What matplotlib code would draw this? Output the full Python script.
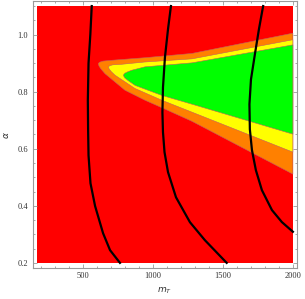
import numpy as np
import matplotlib
matplotlib.use("Agg")
import matplotlib.pyplot as plt
from matplotlib.ticker import MultipleLocator

# Plot range
m_range = [167, 2000]
a_range = [0.2, 1.1]

# Region boundaries (m_T, alpha)
orange_up_m = [607, 615, 640, 703, 941, 1278, 2000]
orange_up_a = [0.898, 0.903, 0.907, 0.910, 0.919, 0.934, 1.005]
orange_lo_m = [607, 612, 625, 655, 798, 941, 1061, 1278, 2000]
orange_lo_a = [0.898, 0.890, 0.880, 0.863, 0.805, 0.770, 0.744, 0.696, 0.511]

yellow_up_m = [679, 688, 710, 775, 941, 1278, 2000]
yellow_up_a = [0.8865, 0.891, 0.894, 0.896, 0.904, 0.915, 0.982]
yellow_lo_m = [679, 685, 700, 727, 870, 1061, 1278, 2000]
yellow_lo_a = [0.8865, 0.879, 0.870, 0.8575, 0.811, 0.770, 0.728, 0.588]

green_up_m = [786, 795, 815, 846, 941, 1278, 2000]
green_up_a = [0.8575, 0.864, 0.869, 0.875, 0.887, 0.901, 0.964]
green_lo_m = [786, 795, 820, 870, 1061, 1278, 2000]
green_lo_a = [0.8575, 0.849, 0.839, 0.822, 0.787, 0.756, 0.651]

# Black contour curves
c1_m = [560, 550, 537, 532, 534, 537, 551, 584, 641, 691, 762]
c1_a = [1.1, 1.001, 0.900, 0.770, 0.665, 0.577, 0.479, 0.399, 0.304, 0.2445, 0.2]
c2_m = [1127, 1106, 1084, 1070, 1066, 1070, 1081, 1106, 1163, 1263, 1370, 1526]
c2_a = [1.1, 1.019, 0.920, 0.815, 0.728, 0.658, 0.588, 0.518, 0.430, 0.3425, 0.2795, 0.2]
c3_m = [1787, 1757, 1728, 1700, 1689, 1692, 1707, 1735, 1778, 1850, 1921, 2000]
c3_a = [1.1, 1.019, 0.931, 0.843, 0.756, 0.668, 0.595, 0.525, 0.455, 0.385, 0.343, 0.309]

fig = plt.figure(figsize=(3.05, 2.99), dpi=100)
ax = fig.add_axes([0.1066, 0.1037, 0.8688, 0.8913])

ax.fill_between(m_range, a_range[0], a_range[1], color='#ff0000', lw=0)
edge = '#c06060'
ax.fill(orange_up_m + orange_lo_m[::-1], orange_up_a + orange_lo_a[::-1],
        color='#ff8000', ec=edge, lw=0.4)
ax.fill(yellow_up_m + yellow_lo_m[::-1], yellow_up_a + yellow_lo_a[::-1],
        color='#ffff00', ec=edge, lw=0.4)
ax.fill(green_up_m + green_lo_m[::-1], green_up_a + green_lo_a[::-1],
        color='#00ff00', ec=edge, lw=0.4)

for cm, ca in [(c1_m, c1_a), (c2_m, c2_a), (c3_m, c3_a)]:
    ax.plot(cm, ca, color='black', lw=1.6, solid_joinstyle='round')

ax.set_xlim(136, 2033)
ax.set_ylim(0.182, 1.116)

ax.xaxis.set_major_locator(MultipleLocator(500))
ax.xaxis.set_minor_locator(MultipleLocator(100))
ax.yaxis.set_major_locator(MultipleLocator(0.2))
ax.yaxis.set_minor_locator(MultipleLocator(0.05))

gray = '#9a9a9a'
for s in ax.spines.values():
    s.set_color(gray)
    s.set_linewidth(0.8)
ax.tick_params(which='both', direction='in', top=True, right=True, color=gray,
               labelsize=6, labelcolor='#333333', width=0.6)
ax.tick_params(which='major', length=3, pad=3)
ax.tick_params(which='minor', length=1.6)
for lab in ax.get_xticklabels() + ax.get_yticklabels():
    lab.set_family('Liberation Serif')

ax.set_xlabel(r'$m_T$', fontsize=6.5, color='#333333', labelpad=4)
ax.set_ylabel(r'$\alpha$', fontsize=6.5, color='#333333', labelpad=5)

fig.savefig('out.png', dpi=100)
